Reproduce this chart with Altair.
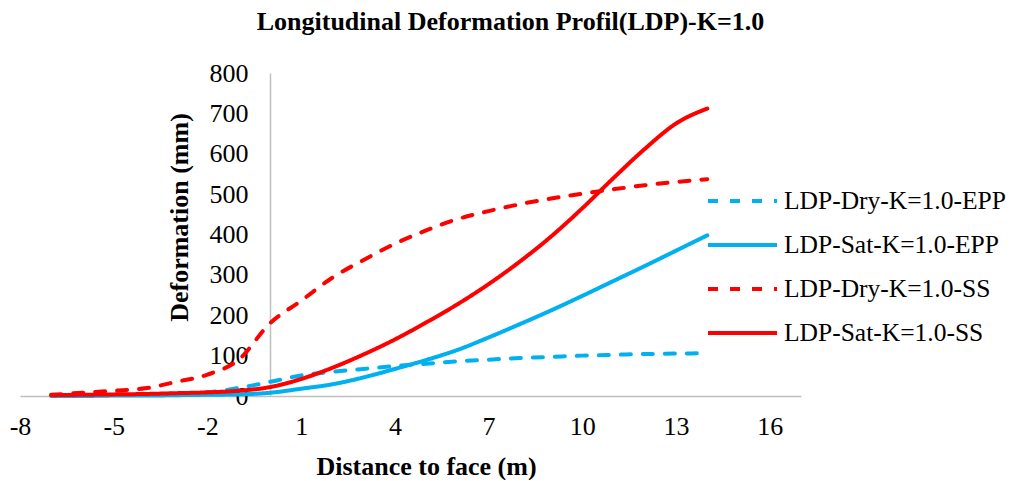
import altair as alt
import pandas as pd

# distance to face (m)
x_vals = list(range(-7, 15))
series_names = ["LDP-Dry-K=1.0-EPP", "LDP-Sat-K=1.0-EPP", "LDP-Dry-K=1.0-SS", "LDP-Sat-K=1.0-SS"]
dry_epp = [1, 2, 3, 4, 6, 9, 20, 35, 51, 60, 67, 74, 80, 86, 90, 94, 97, 100, 102, 104, 105, 106]
sat_epp = [0, 0, 1, 1, 2, 3, 4, 8, 18, 29, 46, 67, 89, 114, 145, 178, 212, 248, 285, 322, 360, 398]
dry_ss = [3, 8, 13, 19, 35, 53, 90, 180, 236, 293, 337, 377, 410, 438, 458, 475, 489, 501, 512, 522, 530, 537]
sat_ss = [2, 3, 4, 5, 7, 9, 13, 22, 42, 70, 103, 140, 182, 227, 277, 333, 395, 465, 540, 612, 675, 712]
x_ticks = [-8, -5, -2, 1, 4, 7, 10, 13, 16]
y_ticks = [0, 100, 200, 300, 400, 500, 600, 700, 800]
colors = ["#00B0F0", "#00B0F0", "#FF0000", "#FF0000"]
dashes = [[10, 12], [1, 0], [10, 12], [1, 0]]

rows = []
for name, vals in zip(series_names, [dry_epp, sat_epp, dry_ss, sat_ss]):
    for xv, yv in zip(x_vals, vals):
        rows.append({"x": xv, "y": yv, "series": name})
df = pd.DataFrame(rows)

W, H = 781, 323
FONT = "Liberation Serif"

legend = alt.Legend(
    title=None, orient="none", legendX=686, legendY=106,
    symbolType="stroke", symbolSize=4761, symbolStrokeWidth=4,
    labelFont=FONT, labelFontSize=25.5, labelColor="black", labelOffset=5,
    clipHeight=44, rowPadding=0, labelLimit=400,
)

chart = alt.Chart(df).mark_line(strokeWidth=4, strokeCap="round", interpolate="monotone").encode(
    x=alt.X("x:Q", scale=alt.Scale(domain=[-8, 17], nice=False, zero=False),
            axis=alt.Axis(values=x_ticks, title="Distance to face (m)", grid=False, ticks=False,
                          labelFlush=False, labelOverlap=False, labelPadding=17,
                          labelExpr="'' + datum.value",
                          titlePadding=14, titleX=406)),
    y=alt.Y("y:Q", scale=alt.Scale(domain=[0, 800], nice=False),
            axis=alt.Axis(values=y_ticks, title="Deformation (mm)", grid=False, ticks=False,
                          offset=-250, labelFlush=False, labelOverlap=False, labelPadding=22,
                          titleX=-91, titleY=144, titleBaseline="middle")),
    color=alt.Color("series:N", sort=series_names,
                    scale=alt.Scale(domain=series_names, range=colors), legend=legend),
    strokeDash=alt.StrokeDash("series:N", sort=series_names,
                              scale=alt.Scale(domain=series_names, range=dashes), legend=legend),
).properties(
    width=W, height=H,
    title=alt.TitleParams("Longitudinal Deformation Profil(LDP)-K=1.0", font=FONT, fontSize=26,
                          fontWeight="bold", color="black", anchor="middle", frame="group",
                          dx=100, offset=25),
    autosize=alt.AutoSizeParams(type="none"),
    padding={"left": 12, "top": 65, "right": 209, "bottom": 84},
).configure_view(stroke=None).configure_axis(
    domainColor="#BFBFBF", domainWidth=1.5,
    labelFont=FONT, labelFontSize=26, labelColor="black",
    titleFont=FONT, titleFontSize=26, titleFontWeight="bold", titleColor="black",
)

chart.save("out.html", embed_options={"renderer": "svg", "actions": False})
